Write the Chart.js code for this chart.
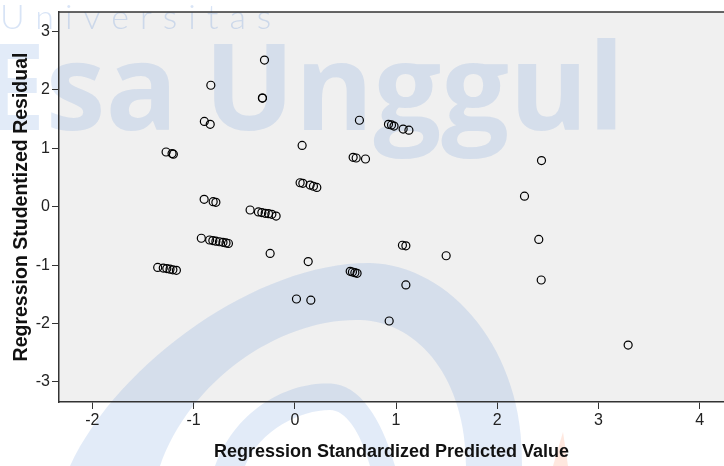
<!DOCTYPE html>
<html>
<head>
<meta charset="utf-8">
<script src="https://cdn.jsdelivr.net/npm/chart.js@4.4.1/dist/chart.umd.min.js"></script>
<style>
  html, body { margin: 0; padding: 0; background: #fff; }
  #wrap { width: 724px; height: 466px; }
</style>
</head>
<body>
<div id="wrap"><canvas id="Grafico" width="724" height="466"></canvas></div>
<script>
const predicted = [
  -0.30, -0.83, -0.32, -0.32, -0.894, -0.836, -1.272, -1.213, -1.20, 0.072,
  0.638, 0.925, 0.955, 0.98, 1.07, 1.127, 0.576, 0.606, 0.698, 0.052,
  0.079, 0.151, 0.184, 0.217, 2.437, 2.269, 2.41, 2.434, 3.293, 1.063,
  1.097, 1.495, 1.097, 0.932, 0.132, 0.547, 0.569, 0.593, 0.615, 0.016,
  0.158, -0.896, -0.807, -0.78, -0.442, -0.36, -0.326, -0.293, -0.26, -0.227,
  -0.185, -0.924, -0.842, -0.81, -0.78, -0.745, -0.71, -0.68, -0.656, -0.244,
  -1.355, -1.30, -1.265, -1.233, -1.205, -1.17
];
const residual = [
  2.51, 2.08, 1.86, 1.86, 1.46, 1.41, 0.937, 0.91, 0.90, 1.05,
  1.48, 1.41, 1.40, 1.38, 1.33, 1.31, 0.846, 0.834, 0.817, 0.41,
  0.40, 0.37, 0.35, 0.33, 0.79, 0.18, -0.56, -1.255, -2.37, -0.66,
  -0.67, -0.84, -1.34, -1.957, -0.94, -1.106, -1.118, -1.13, -1.14, -1.58,
  -1.60, 0.126, 0.086, 0.075, -0.056, -0.09, -0.10, -0.114, -0.12, -0.13,
  -0.16, -0.54, -0.57, -0.58, -0.59, -0.60, -0.61, -0.62, -0.63, -0.80,
  -1.04, -1.05, -1.06, -1.07, -1.08, -1.09
];
const xTicks = [-2, -1, 0, 1, 2, 3, 4];
const yTicks = [-3, -2, -1, 0, 1, 2, 3];
const xTitle = "Regression Standardized Predicted Value";
const yTitle = "Regression Studentized Residual";

const tickFont = { family: '"Liberation Sans Narrow", "Arial Narrow", Arial, sans-serif', size: 16 };
const titleFont = { family: 'Arial, "Liberation Sans", sans-serif', size: 18, weight: 'bold' };

// grey plot panel, watermark and top frame line
const panel = {
  id: 'panel',
  beforeDraw(chart) {
    const ctx = chart.ctx, a = chart.chartArea;
    ctx.save();
    ctx.fillStyle = '#fff';
    ctx.fillRect(0, 0, chart.width, chart.height);
    ctx.fillStyle = '#f0f0f0';
    ctx.fillRect(a.left, a.top, a.right - a.left, a.bottom - a.top);

    ctx.fillStyle = 'rgba(60,120,210,0.15)';
    // swoosh at the bottom
    ctx.beginPath();
    ctx.moveTo(70, 466);
    ctx.bezierCurveTo(120, 360, 260, 262, 370, 263);
    ctx.bezierCurveTo(450, 265, 525, 350, 522, 466);
    ctx.lineTo(466, 466);
    ctx.bezierCurveTo(466, 380, 420, 322, 360, 320);
    ctx.bezierCurveTo(280, 318, 190, 380, 160, 466);
    ctx.closePath();
    ctx.fill();
    ctx.beginPath();
    ctx.moveTo(215, 466);
    ctx.bezierCurveTo(240, 400, 300, 380, 335, 384);
    ctx.bezierCurveTo(365, 388, 385, 430, 395, 466);
    ctx.lineTo(370, 466);
    ctx.bezierCurveTo(360, 430, 345, 410, 330, 410);
    ctx.bezierCurveTo(300, 410, 260, 430, 245, 466);
    ctx.closePath();
    ctx.fill();
    ctx.fillStyle = 'rgba(255,130,80,0.18)';
    ctx.beginPath();
    ctx.moveTo(553, 466);
    ctx.lineTo(563, 432);
    ctx.lineTo(568, 466);
    ctx.closePath();
    ctx.fill();

    ctx.fillStyle = 'rgba(60,120,210,0.15)';
    ctx.font = 'bold 120px "Open Sans", sans-serif';
    ctx.textBaseline = 'alphabetic';
    ctx.textAlign = 'right';
    ctx.fillText('Esa', 178, 130);
    ctx.textAlign = 'left';
    ctx.fillText('Unggul', 204, 130);
    ctx.fillStyle = 'rgba(60,120,210,0.2)';
    ctx.font = '300 34px Lato, sans-serif';
    ctx.letterSpacing = '11px';
    ctx.fillText('Universitas', 0, 29);
    ctx.restore();
  },
  beforeDatasetsDraw(chart) {
    const ctx = chart.ctx, a = chart.chartArea;
    ctx.save();
    ctx.strokeStyle = '#333';
    ctx.lineWidth = 1.5;
    ctx.beginPath();
    ctx.moveTo(a.left, a.top);
    ctx.lineTo(a.right, a.top);
    ctx.stroke();
    ctx.restore();
  }
};

document.addEventListener('DOMContentLoaded', function () {
  let canva = document.getElementById("Grafico").getContext("2d");
  let puntos = predicted.map((x, i) => ({ x: x, y: residual[i] }));
  var chart = new Chart(canva, {
    type: "scatter",
    data: {
      datasets: [{
        data: puntos,
        pointStyle: 'circle',
        pointRadius: 4,
        pointHoverRadius: 4,
        borderWidth: 1.2,
        borderColor: '#000',
        backgroundColor: 'rgba(0,0,0,0)'
      }]
    },
    options: {
      responsive: false,
      animation: false,
      events: [],
      layout: { autoPadding: false, padding: { top: 12, right: 0, bottom: 0, left: 0 } },
      plugins: { legend: { display: false }, tooltip: { enabled: false } },
      scales: {
        x: {
          type: 'linear',
          min: -2.33,
          max: 4.24,
          afterBuildTicks: s => { s.ticks = xTicks.map(v => ({ value: v })); },
          afterFit: s => { s.height = 64; s.paddingLeft = 0; s.paddingRight = 0; },
          grid: { drawOnChartArea: false, drawTicks: true, tickLength: 7, tickColor: '#333', tickWidth: 1 },
          border: { display: true, color: '#333', width: 1.5 },
          ticks: { color: '#222', font: tickFont, padding: 2, maxRotation: 0 },
          title: { display: true, text: xTitle, color: '#111', font: titleFont, padding: { top: 0, bottom: 3 } }
        },
        y: {
          type: 'linear',
          min: -3.344,
          max: 3.334,
          afterBuildTicks: s => { s.ticks = yTicks.map(v => ({ value: v })); },
          afterFit: s => { s.width = 59; s.paddingTop = 0; s.paddingBottom = 0; },
          grid: { drawOnChartArea: false, drawTicks: true, tickLength: 7, tickColor: '#333', tickWidth: 1 },
          border: { display: true, color: '#333', width: 1.5 },
          ticks: { color: '#222', font: tickFont, padding: 2 },
          title: { display: true, text: yTitle, color: '#111', font: { family: titleFont.family, size: 19.5, weight: 'bold' }, padding: { top: 10, bottom: 0 } }
        }
      }
    },
    plugins: [panel]
  });
});
</script>
</body>
</html>
